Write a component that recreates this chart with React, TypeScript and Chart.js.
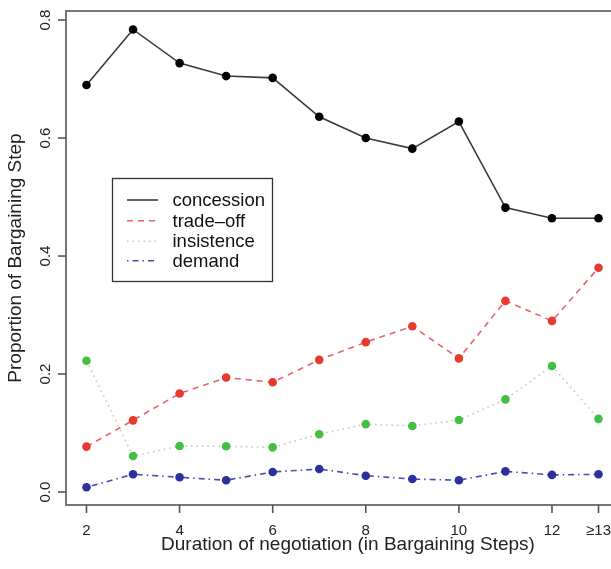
import React, { useEffect, useRef } from "react";
import { Chart, registerables } from "chart.js";

Chart.register(...registerables);

const steps = [2, 3, 4, 5, 6, 7, 8, 9, 10, 11, 12, 13];
const xTickValues = [2, 4, 6, 8, 10, 12, 13];
const xTickLabels = ["2", "4", "6", "8", "10", "12", "≥13"];
const yTickValues = [0, 0.2, 0.4, 0.6, 0.8];
const yTickLabels = ["0.0", "0.2", "0.4", "0.6", "0.8"];

const concession = [0.69, 0.784, 0.727, 0.705, 0.702, 0.636, 0.6, 0.582, 0.628, 0.482, 0.464, 0.464];
const tradeOff = [0.077, 0.1215, 0.167, 0.194, 0.186, 0.224, 0.254, 0.281, 0.2265, 0.324, 0.29, 0.38];
const insistence = [0.2225, 0.061, 0.078, 0.0775, 0.0757, 0.098, 0.115, 0.112, 0.122, 0.157, 0.2136, 0.124];
const demand = [0.008, 0.03, 0.025, 0.02, 0.034, 0.039, 0.0277, 0.022, 0.02, 0.035, 0.029, 0.03];

const seriesNames = ["concession", "trade\u2013off", "insistence", "demand"];
const xTitle = "Duration of negotiation (in Bargaining Steps)";
const yTitle = "Proportion of Bargaining Step";

const FONT = "'Liberation Sans', Arial, Helvetica, sans-serif";

const lineColors = ["#3a3a3a", "#e8626a", "#b4d2b4", "#4a4ab0"];
const pointColors = ["#000000", "#e63b2e", "#43c043", "#2c2f9c"];
const dashes: number[][] = [[], [6, 5], [1.5, 4], [1.5, 4, 6, 4]];

const toPts = (vals: number[]) => vals.map((v, i) => ({ x: steps[i], y: v }));

const axesPlugin = {
  id: "rAxes",
  afterDraw(chart: any) {
    const ctx = chart.ctx as CanvasRenderingContext2D;
    const xs = chart.scales.x;
    const ys = chart.scales.y;
    const a = chart.chartArea;
    ctx.save();
    // box
    ctx.strokeStyle = "#555";
    ctx.lineWidth = 1.6;
    ctx.strokeRect(a.left, a.top, a.right - a.left, a.bottom - a.top);
    // y ticks
    ctx.fillStyle = "#222";
    ctx.font = `15px ${FONT}`;
    yTickValues.forEach((v, i) => {
      const py = ys.getPixelForValue(v);
      ctx.beginPath();
      ctx.moveTo(a.left - 8, py);
      ctx.lineTo(a.left, py);
      ctx.stroke();
      ctx.save();
      ctx.translate(50, py);
      ctx.rotate(-Math.PI / 2);
      ctx.textAlign = "center";
      ctx.textBaseline = "alphabetic";
      ctx.fillText(yTickLabels[i], 0, 0);
      ctx.restore();
    });
    // x ticks
    xTickValues.forEach((v, i) => {
      const px = xs.getPixelForValue(v);
      ctx.beginPath();
      ctx.moveTo(px, a.bottom);
      ctx.lineTo(px, a.bottom + 8);
      ctx.stroke();
      ctx.textAlign = "center";
      ctx.textBaseline = "alphabetic";
      ctx.fillText(xTickLabels[i], px, 534.5);
    });
    // titles
    ctx.font = `19px ${FONT}`;
    ctx.textAlign = "center";
    ctx.textBaseline = "alphabetic";
    ctx.fillText(xTitle, 348, 550);
    ctx.save();
    ctx.translate(21, (a.top + a.bottom) / 2);
    ctx.rotate(-Math.PI / 2);
    ctx.fillText(yTitle, 0, 0);
    ctx.restore();
    // legend
    const lx = 112.5, ly = 178.5, lw = 160, lh = 103;
    ctx.fillStyle = "#fff";
    ctx.fillRect(lx, ly, lw, lh);
    ctx.strokeStyle = "#333";
    ctx.lineWidth = 1.3;
    ctx.strokeRect(lx, ly, lw, lh);
    const rows = [200, 220.7, 241.2, 260.7];
    ctx.font = `18.5px ${FONT}`;
    ctx.textAlign = "left";
    ctx.textBaseline = "middle";
    seriesNames.forEach((name, i) => {
      ctx.strokeStyle = lineColors[i];
      ctx.lineWidth = 1.6;
      ctx.setLineDash(dashes[i]);
      ctx.beginPath();
      ctx.moveTo(127, rows[i]);
      ctx.lineTo(158, rows[i]);
      ctx.stroke();
      ctx.setLineDash([]);
      ctx.fillStyle = "#111";
      ctx.fillText(name, 172.5, rows[i] + 1);
    });
    ctx.restore();
  },
};

export default function App() {
  const ref = useRef<HTMLCanvasElement | null>(null);
  useEffect(() => {
    if (!ref.current) return;
    const all = [concession, tradeOff, insistence, demand];
    const chart = new Chart(ref.current, {
      type: "line",
      data: {
        datasets: all.map((vals, i) => ({
          label: seriesNames[i],
          data: toPts(vals),
          borderColor: lineColors[i],
          borderWidth: 1.6,
          borderDash: dashes[i],
          pointBackgroundColor: pointColors[i],
          pointBorderColor: pointColors[i],
          pointRadius: 4.3,
          pointBorderWidth: 0,
          tension: 0,
          fill: false,
        })),
      },
      options: {
        animation: false,
        responsive: false,
        events: [],
        layout: { padding: { left: 66, top: 11, right: 21, bottom: 64 } },
        plugins: { legend: { display: false }, tooltip: { enabled: false } },
        scales: {
          x: { type: "linear", min: 1.56, max: 13.44, display: false },
          y: { type: "linear", min: -0.022, max: 0.8153, display: false },
        },
      },
      plugins: [axesPlugin],
    });
    return () => chart.destroy();
  }, []);
  return (
    <div
      style={{
        position: "fixed",
        left: 0,
        top: 0,
        width: 611,
        height: 569,
        overflow: "hidden",
        background: "#fff",
      }}
    >
      <canvas ref={ref} width={640} height={569} style={{ display: "block" }} />
    </div>
  );
}
